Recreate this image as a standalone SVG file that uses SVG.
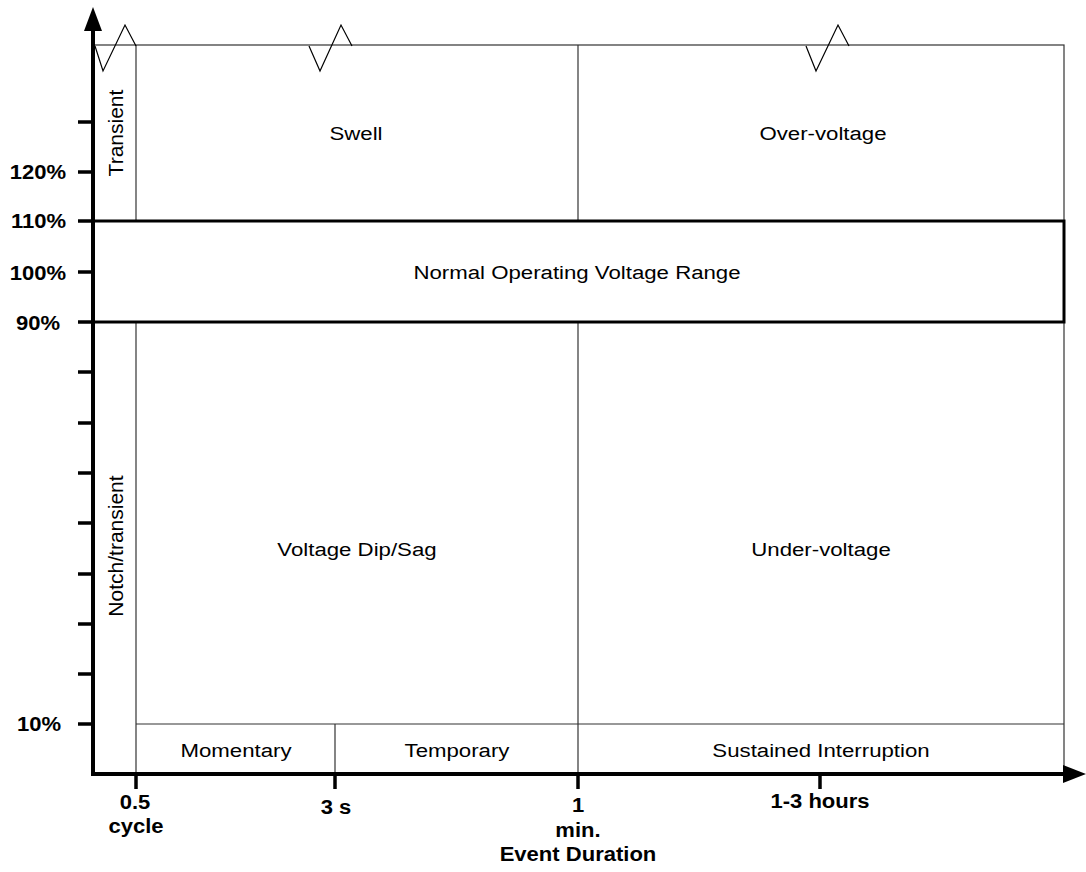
<svg xmlns="http://www.w3.org/2000/svg" width="1086" height="872" viewBox="0 0 1086 872">
<style>
.thin{fill:none;stroke:#333;stroke-width:1.2}
.zig{fill:none;stroke:#000;stroke-width:1.2}
.axis{fill:none;stroke:#000;stroke-width:4}
.tick{stroke:#000;stroke-width:3.5}
.lbl{font-family:"Liberation Sans",Arial,sans-serif;font-size:19px;fill:#000;text-anchor:middle}
.rot{font-family:"Liberation Sans",Arial,sans-serif;font-size:21px;fill:#000;text-anchor:middle;dominant-baseline:central}
.ax{font-family:"Liberation Sans",Arial,sans-serif;font-size:19.5px;font-weight:bold;fill:#000}
</style>
<rect width="1086" height="872" fill="#fff"/>
<g id="regions">
<rect x="93" y="45" width="971" height="729" class="thin"/>
<line x1="136" y1="45" x2="136" y2="221" class="thin"/>
<line x1="578" y1="45" x2="578" y2="221" class="thin"/>
<line x1="136" y1="322" x2="136" y2="774" class="thin"/>
<line x1="578" y1="322" x2="578" y2="774" class="thin"/>
<line x1="136" y1="724" x2="1064" y2="724" class="thin"/>
<line x1="335" y1="724" x2="335" y2="774" class="thin"/>
</g>
<g id="normal">
<rect x="93" y="221" width="971" height="101" fill="none" stroke="#000" stroke-width="3"/>
<text class="lbl" transform="translate(577,279) scale(1.17,1)">Normal Operating Voltage Range</text>
</g>
<g id="zigzags">
<polyline class="zig" points="95,46 103,71 125,25 136,46"/>
<polyline class="zig" points="309,46 320,71 341,25 352,46"/>
<polyline class="zig" points="806,46 816,71 838,25 849,46"/>
</g>
<g id="transient"><text class="rot" transform="translate(115,133) rotate(-90)">Transient</text></g>
<g id="swell"><text class="lbl" transform="translate(356,139.5) scale(1.17,1)">Swell</text></g>
<g id="overvoltage"><text class="lbl" transform="translate(823,140) scale(1.17,1)">Over-voltage</text></g>
<g id="notch"><text class="rot" transform="translate(115,546) rotate(-90)">Notch/transient</text></g>
<g id="sag"><text class="lbl" transform="translate(357,556) scale(1.17,1)">Voltage Dip/Sag</text></g>
<g id="undervoltage"><text class="lbl" transform="translate(821,556) scale(1.17,1)">Under-voltage</text></g>
<g id="momentary"><text class="lbl" transform="translate(236,757) scale(1.17,1)">Momentary</text></g>
<g id="temporary"><text class="lbl" transform="translate(457,757) scale(1.17,1)">Temporary</text></g>
<g id="sustained"><text class="lbl" transform="translate(821,757) scale(1.17,1)">Sustained Interruption</text></g>
<g id="axes">
<line class="axis" x1="93" y1="776" x2="93" y2="28"/>
<polygon points="93,7 84,31 102,31" fill="#000"/>
<line class="axis" x1="91" y1="774" x2="1066" y2="774"/>
<polygon points="1086,774 1063,765 1063,783" fill="#000"/>
<g class="tick">
<line x1="78" y1="122" x2="93" y2="122"/>
<line x1="78" y1="172" x2="93" y2="172"/>
<line x1="78" y1="221" x2="93" y2="221"/>
<line x1="78" y1="272" x2="93" y2="272"/>
<line x1="78" y1="322" x2="93" y2="322"/>
<line x1="78" y1="372" x2="93" y2="372"/>
<line x1="78" y1="423" x2="93" y2="423"/>
<line x1="78" y1="473" x2="93" y2="473"/>
<line x1="78" y1="523" x2="93" y2="523"/>
<line x1="78" y1="574" x2="93" y2="574"/>
<line x1="78" y1="624" x2="93" y2="624"/>
<line x1="78" y1="674" x2="93" y2="674"/>
<line x1="78" y1="724" x2="93" y2="724"/>
<line x1="136" y1="774" x2="136" y2="789"/>
<line x1="335" y1="774" x2="335" y2="789"/>
<line x1="578" y1="774" x2="578" y2="789"/>
<line x1="820" y1="774" x2="820" y2="789"/>
</g>
<g class="ax" text-anchor="end">
<text transform="translate(66,179) scale(1.13,1)">120%</text>
<text transform="translate(66,228) scale(1.13,1)">110%</text>
<text transform="translate(66,280) scale(1.13,1)">100%</text>
<text transform="translate(60,330) scale(1.13,1)">90%</text>
<text transform="translate(61,731) scale(1.13,1)">10%</text>
</g>
<g class="ax" text-anchor="middle">
<text transform="translate(135,809) scale(1.13,1)">0.5</text>
<text transform="translate(136,833) scale(1.13,1)">cycle</text>
<text transform="translate(336,814) scale(1.13,1)">3 s</text>
<text transform="translate(578,812) scale(1.13,1)">1</text>
<text transform="translate(578,837) scale(1.13,1)">min.</text>
<text transform="translate(578,861) scale(1.13,1)">Event Duration</text>
<text transform="translate(820,808) scale(1.13,1)">1-3 hours</text>
</g>
</g>
</svg>
